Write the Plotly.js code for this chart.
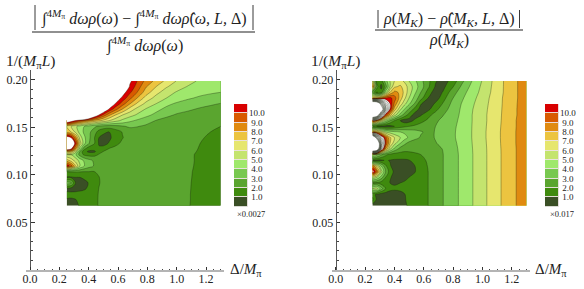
<!DOCTYPE html>
<html><head><meta charset="utf-8">
<script src="https://cdn.plot.ly/plotly-3.0.1.min.js"></script>
<style>html,body{margin:0;padding:0;background:#fff}#c{width:584px;height:289px}</style>
</head><body><div id="c"></div>
<script>
const gridX=[.25,.28,.31,.34,.37,.40,.44,.47,.50,.54,.58,.63,.68,.73,.79,.86,.93,1.0,1.08,1.16,1.23,1.3];
const leftY=[.1987,.1928,.1868,.1808,.1749,.1689,.1629,.1570,.1510,.1451,.1391,.1331,.1272,.1243,.1212,.1152,.1093,.1033,.0973,.0914,.0854,.0794,.0735,.0675];
const rightY=[.1987,.1928,.1868,.1808,.1749,.1689,.1629,.1570,.1510,.1451,.1391,.1331,.1272,.1212,.1152,.1093,.1033,.0973,.0914,.0854,.0794,.0735,.0675];
const leftZ=[
[20,20,20,20,20,20,20,20,20,20,20,20,11.3,10,8.7,7.7,6.75,5.95,5.4,4.8,4.55,4.35],
[20,20,20,20,20,20,20,20,20,20,20,14,10.8,9.6,8.1,7,6.1,5.5,4.9,4.45,4.25,4.15],
[20,20,20,20,20,20,20,20,20,20,15,11.6,10.2,9,7.5,6.3,5.5,4.9,4.6,4.35,4.15,4.0],
[20,20,20,20,20,20,20,20,20,15,12,10.7,9.3,8,6.6,5.65,5,4.6,4.15,3.8,3.6,3.5],
[20,20,20,20,20,20,20,20,15,12.5,11,9.5,8.1,6.85,5.75,5,4.3,3.85,3.45,3.25,3.1,2.98],
[20,20,20,20,20,20,20,15,12.5,10.8,9.4,7.9,6.55,5.65,4.9,4.3,3.7,3.35,3.1,2.9,2.8,2.72],
[20,20,20,20,20,16,12.5,10.9,9.7,8.2,7.05,6,5.4,4.85,4.3,3.7,3.2,2.9,2.75,2.6,2.5,2.42],
[13,12,10.9,9.8,9,8.4,7.6,7.2,6.7,6,5.4,4.75,4.2,3.85,3.4,2.95,2.7,2.55,2.45,2.4,2.35,2.3],
[7,6,5.2,4.6,4,3.6,3.2,2.8,2.6,2.5,2.6,2.9,3.15,3.05,2.85,2.6,2.45,2.35,2.3,2.25,2.15,2.0],
[7.5,7,5.8,4.6,3.8,3.3,2.4,1.6,1.2,1.0,1.5,2.05,2.5,2.55,2.5,2.45,2.35,2.3,2.25,2.15,2.0,1.85],
[12,11,8.5,5.6,4.2,3.3,2.0,1.0,.7,.8,1.4,1.95,2.4,2.5,2.5,2.45,2.4,2.35,2.25,2.1,1.85,1.75],
[16,13,10.5,6.5,4.3,3.1,2.0,.9,.6,1.1,1.7,2.2,2.4,2.5,2.5,2.5,2.45,2.4,2.3,2.0,1.8,1.7],
[12.5,11,8,4.5,2.2,1.3,1.25,1.15,1.5,2.1,2.3,2.4,2.5,2.5,2.5,2.5,2.45,2.4,2.2,1.95,1.7,1.6],
[7.5,7.5,5.5,2.8,1.3,.85,.85,1.6,2.05,2.3,2.4,2.45,2.5,2.5,2.5,2.5,2.45,2.4,2.2,1.9,1.7,1.6],
[5,5,4.2,2.6,1.8,1.6,1.7,2.1,2.35,2.45,2.5,2.5,2.5,2.5,2.5,2.5,2.45,2.35,2.15,1.85,1.65,1.55],
[7.5,6.5,5.6,4.6,3.8,3.3,2.8,2.5,2.4,2.45,2.5,2.55,2.55,2.55,2.55,2.55,2.5,2.45,2.15,1.85,1.7,1.6],
[10.8,9.5,7,5,4,3.4,2.9,2.6,2.4,2.4,2.45,2.5,2.5,2.5,2.5,2.5,2.5,2.4,2.12,1.85,1.65,1.55],
[2.0,2.1,2.1,2.05,2,2,2,2.1,2.3,2.4,2.45,2.5,2.5,2.5,2.5,2.5,2.45,2.35,2.1,1.8,1.65,1.55],
[.9,.9,1,1,1.2,1.4,1.7,1.98,2.2,2.35,2.4,2.45,2.5,2.5,2.5,2.5,2.45,2.35,2.08,1.8,1.65,1.55],
[3.5,3.2,1,.6,.7,1.05,1.5,1.95,2.2,2.35,2.4,2.45,2.5,2.5,2.5,2.5,2.45,2.35,2.06,1.8,1.65,1.55],
[.7,.6,.6,.7,.85,1.2,1.7,2.02,2.25,2.35,2.4,2.45,2.5,2.5,2.5,2.5,2.45,2.35,2.05,1.8,1.65,1.55],
[1.3,1.3,1.35,1.4,1.5,1.6,1.8,2.05,2.25,2.35,2.4,2.45,2.5,2.5,2.5,2.5,2.45,2.35,2.04,1.8,1.65,1.55],
[.9,.85,.95,1.2,1.4,1.6,1.85,2.05,2.25,2.35,2.4,2.45,2.5,2.5,2.5,2.5,2.45,2.35,2.04,1.8,1.65,1.55],
[.6,.6,.75,1.1,1.35,1.55,1.85,2.05,2.25,2.35,2.4,2.45,2.5,2.5,2.5,2.5,2.45,2.35,2.03,1.8,1.65,1.55]];
const rightZ=[
[7,1.5,1.5,3.5,5,6,6.3,5.8,5,4.2,3.3,2.3,1.1,.6,1.25,2.75,4.03,5.07,6.2,7.2,7.9,8.6],
[9.5,2.5,.6,2.5,5,6.8,7.2,6.5,5.6,4.5,3.5,2.2,.9,.7,1.75,3.2,4.3,5.2,6.25,7.2,7.9,8.6],
[3,.9,1.5,4.5,7,8.3,7.8,6.6,5.5,4.2,3,1.6,.4,1.05,2.4,3.6,4.5,5.3,6.3,7.2,7.9,8.6],
[8,8,9,10,10.3,9.5,7.5,6.2,5,3.6,2.4,1,.4,1.55,2.85,3.85,4.7,5.45,6.4,7.25,7.9,8.6],
[30,28,20,14,11,8.8,6.6,5.3,4.2,2.9,1.1,.3,1.15,2.05,3.15,4.05,4.85,5.55,6.45,7.25,7.93,8.62],
[30,30,26,16,10.8,7.5,5.2,3.9,2.8,1.6,.6,.75,1.7,2.55,3.35,4.15,4.95,5.65,6.47,7.28,7.95,8.65],
[30,26,16,10,7.5,5.5,3.6,2.5,1.6,.5,.9,1.7,2.4,2.95,3.5,4.2,5,5.7,6.5,7.3,7.95,8.65],
[11,9,6.5,4.5,3,2,1,.5,.6,1.2,1.7,2.2,2.85,3.2,3.65,4.25,5,5.7,6.5,7.33,8,8.68],
[1.2,1,.7,.5,.6,1,1.5,1.8,2,2.2,2.4,2.6,3,3.35,3.75,4.3,5.02,5.72,6.55,7.35,8,8.7],
[9,8,6.5,5,4.5,4.2,4,3.8,3.6,3.4,3.1,2.75,3.05,3.4,3.8,4.33,5.03,5.75,6.57,7.38,8.02,8.72],
[30,20,13,9.5,7.2,6,5,4.4,3.8,3.3,2.9,2.75,3.05,3.35,3.8,4.33,5.03,5.75,6.57,7.38,8.02,8.72],
[32,30,16,10,7,5.4,4,3.2,2.7,2.4,2.3,2.6,2.95,3.2,3.7,4.3,5,5.72,6.55,7.37,8.02,8.72],
[32,28,13,8,5.3,3.7,2.6,2.3,2.25,2.2,2.25,2.45,2.8,3.02,3.62,4.25,4.97,5.7,6.52,7.35,8,8.7],
[6,4.5,3.2,2.2,1.7,1.5,1.6,1.65,1.75,1.9,2,2.3,2.65,2.97,3.55,4.23,4.95,5.7,6.5,7.35,8,8.7],
[.8,.7,.8,1.1,.95,.9,.85,.85,.95,1.3,1.8,2.1,2.6,2.97,3.55,4.23,4.95,5.7,6.5,7.35,8,8.7],
[9,6.5,4,2.2,1.1,.6,.4,.5,.7,1,1.6,2.05,2.55,2.97,3.55,4.23,4.95,5.7,6.5,7.35,8,8.7],
[12,9,5.5,3,1.5,.8,.4,.4,.6,.95,1.55,2,2.55,2.97,3.55,4.23,4.95,5.7,6.5,7.35,8,8.7],
[6,5,3.5,2,1.1,.7,.5,.7,1,1.25,1.6,2,2.55,2.97,3.55,4.23,4.95,5.7,6.5,7.35,8,8.7],
[1.6,1.8,1.5,1.2,1,.9,1,1.15,1.3,1.45,1.65,2,2.55,2.97,3.55,4.23,4.95,5.7,6.5,7.35,8,8.7],
[5,5.5,3.5,2,1.3,1.15,1.15,1.2,1.35,1.5,1.7,2,2.55,2.97,3.55,4.23,4.95,5.7,6.5,7.35,8,8.7],
[1.5,.8,.5,.5,.5,.6,.8,.98,1.2,1.45,1.7,2,2.55,2.97,3.55,4.23,4.95,5.7,6.5,7.35,8,8.7],
[2.5,.7,.3,.3,.4,.5,.75,.95,1.15,1.4,1.7,2,2.55,2.97,3.55,4.23,4.95,5.7,6.5,7.35,8,8.7],
[.3,.3,.3,.35,.4,.5,.7,.9,1.1,1.4,1.7,2,2.55,2.97,3.55,4.23,4.95,5.7,6.5,7.35,8,8.7]];
const bandColors=['#3a4f25','#3f8a0e','#5aa52f','#78c850','#9fe86c','#c4e46e','#e6e66e','#ecc440','#e08a10','#d85a00','#d80000'];
const legendCenters=[0.5,1.5,2.5,3.5,4.5,5.5,6.5,7.5,8.5,9.5,10.5];
const legendTickVals=[1,2,3,4,5,6,7,8,9,10];
const legendTickText=['\u00a01.0','\u00a02.0','\u00a03.0','\u00a04.0','\u00a05.0','\u00a06.0','\u00a07.0','\u00a08.0','\u00a09.0','10.0'];
const xTicks=[0,.2,.4,.6,.8,1,1.2];
const xTickText=['0.0','0.2','0.4','0.6','0.8','1.0','1.2'];
const yTicks=[.05,.1,.15,.2];
const yTickText=['0.05','0.10','0.15','0.20'];
const W=584,H=289,FONT='"Liberation Serif", serif',TXT='#222';
const fx=p=>p/W, fy=p=>1-p/H;
function scale(top){ // stepped colours per contour band, white above the last band
  const s=[]; for(let k=0;k<=top;k++) s.push([k/top, k<bandColors.length?bandColors[k]:'#ffffff']); return s;
}
function contour(z,y,xa,ya,top){
  return {type:'contour',x:gridX,y:y,z:z,xaxis:xa,yaxis:ya,showscale:false,zauto:false,zmin:0,zmax:top+1,
    autocontour:false,colorscale:scale(top),
    contours:{start:1,end:top,size:1,coloring:'fill',showlines:true},
    line:{color:'rgba(20,30,10,0.55)',width:0.6,smoothing:1},hoverinfo:'skip'};
}
function swatches(xa,ya){
  return {type:'bar',orientation:'v',x:legendCenters.map(()=>1),y:legendCenters.map(()=>1),base:legendCenters.map(c=>c-.5),
    width:0.98,xaxis:xa,yaxis:ya,marker:{color:bandColors,line:{color:'rgba(235,225,225,0.9)',width:1}},showlegend:false,hoverinfo:'skip'};
}
function xAxis(x0,sfx){return {domain:[fx(x0-3.67),fx(x0+194.4)],range:[-.025,1.325],anchor:'y'+sfx,showline:true,linecolor:'#b4b4b4',linewidth:1.5,
  tickvals:xTicks,ticktext:xTickText,ticks:'inside',ticklen:3,tickwidth:.8,tickcolor:'#333',showgrid:false,zeroline:false,ticklabelstandoff:-3,
  minor:{dtick:.05,tick0:0,ticks:'inside',ticklen:1.5,tickwidth:.7,tickcolor:'#444',showgrid:false},
  tickfont:{family:FONT,size:12,color:TXT}};}
function yAxis(x0,sfx){return {domain:[fy(269.8),fy(70.3)],range:[0,.21],anchor:'free',position:fx(x0),showline:true,linecolor:'#555',linewidth:1,
  tickvals:yTicks,ticktext:yTickText,ticks:'inside',ticklen:3.5,tickwidth:.8,tickcolor:'#333',showgrid:false,zeroline:false,
  minor:{dtick:.01,tick0:0,ticks:'inside',ticklen:1.8,tickwidth:.7,tickcolor:'#444',showgrid:false},
  tickfont:{family:FONT,size:12,color:TXT}};}
function legX(x0,sfx){return {domain:[fx(x0),fx(x0+14)],range:[.5,1.5],anchor:'y'+sfx,visible:false,fixedrange:true};}
function legY(sfx){return {domain:[fy(206.5),fy(104)],range:[0,11],anchor:'x'+sfx,side:'right',showline:false,showgrid:false,zeroline:false,ticks:'',
  tickvals:legendTickVals,ticktext:legendTickText,tickfont:{family:FONT,size:9,color:TXT}};}
function note(x,y,text,size,col){return {xref:'paper',yref:'paper',x:fx(x),y:fy(y),text:text,showarrow:false,xanchor:'center',yanchor:'middle',
  font:{family:FONT,size:size,color:col||TXT}};}
function rule(x0,y0,x1,y1,w){return {type:'line',xref:'paper',yref:'paper',x0:fx(x0),y0:fy(y0),x1:fx(x1),y1:fy(y1),line:{color:'#222',width:w||1}};}
const INT='\u222b<sup>4<i>M</i><sub>\u03c0</sub></sup>';
const RHOHAT='<i>\u03c1\u0302</i>';
const traces=[contour(leftZ,leftY,'x','y',11),contour(rightZ,rightY,'x2','y2',22),swatches('x3','y3'),swatches('x4','y4')];
const layout={width:W,height:H,margin:{l:0,r:0,t:0,b:0},paper_bgcolor:'#fff',plot_bgcolor:'rgba(0,0,0,0)',showlegend:false,bargap:0,
  xaxis:xAxis(30,''),yaxis:yAxis(30,''),xaxis2:xAxis(335.7,'2'),yaxis2:yAxis(335.7,'2'),
  xaxis3:legX(234,'3'),yaxis3:legY('3'),xaxis4:legX(545,'4'),yaxis4:legY('4'),
  shapes:[rule(32,32,255,32,1.2),rule(35,5,35,30,.9),rule(253,5,253,30,.9),
          rule(375,30,523,30,1.2),rule(378,10,378,28,.9),rule(519.5,10,519.5,28,.9),
          {type:'rect',xref:'x',yref:'y',x0:.24,x1:.2545,y0:.1575,y1:.2,layer:'above',fillcolor:'#fff',line:{width:0}}],
  annotations:[
    note(144,18,INT+' <i>d\u03c9\u03c1</i>(<i>\u03c9</i>) \u2212 '+INT+' <i>d\u03c9</i>'+RHOHAT+'(<i>\u03c9, L,</i> \u0394)',16),
    note(144,45,INT+' <i>d\u03c9\u03c1</i>(<i>\u03c9</i>)',16),
    note(449,20,'<i>\u03c1</i>(<i>M<sub>K</sub></i>) \u2212 '+RHOHAT+'(<i>M<sub>K</sub>, L,</i> \u0394)',16),
    note(449,41,'<i>\u03c1</i>(<i>M<sub>K</sub></i>)',16),
    note(30,62,'1/(<i>M</i><sub>\u03c0</sub><i>L</i>)',15.5),
    note(335,62,'1/(<i>M</i><sub>\u03c0</sub><i>L</i>)',15.5),
    note(246,270,'\u0394/<i>M</i><sub>\u03c0</sub>',15),
    note(551,270,'\u0394/<i>M</i><sub>\u03c0</sub>',15),
    note(250.5,214,'\u00d70.0027',8.5),
    note(561.5,214,'\u00d70.017',8.5)
  ]};
Plotly.newPlot('c',traces,layout,{displayModeBar:false,responsive:false});
</script></body></html>
